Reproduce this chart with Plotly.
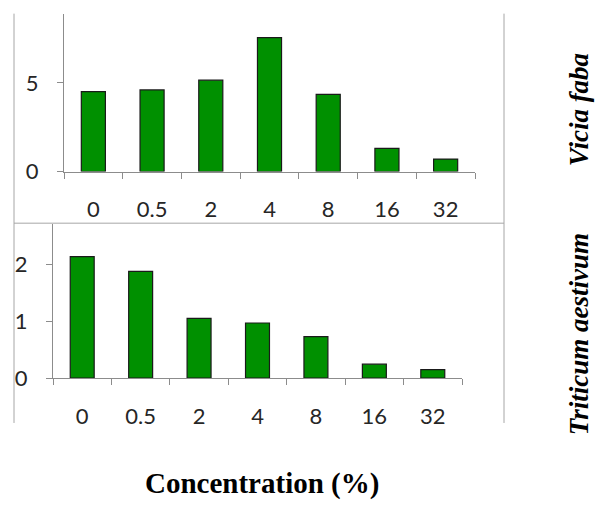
import plotly.graph_objects as go

# Concentration levels (%) and measured values for the two species
concentrations = ["0", "0.5", "2", "4", "8", "16", "32"]
vicia_faba = [4.5, 4.6, 5.15, 7.55, 4.35, 1.3, 0.7]
triticum_aestivum = [2.14, 1.88, 1.05, 0.97, 0.73, 0.245, 0.15]

W, H = 595, 511
BAR_GREEN = "#009000"
AXIS_GREY = "#8c8c8c"
FRAME_GREY = "#a6a6a6"
TICK_FONT = dict(family="Lato", size=22, color="#262626")
SERIF = "Liberation Serif"


def px_x(x):
    return x / W


def px_y(y):
    return (H - y) / H


fig = go.Figure()
fig.add_trace(go.Bar(x=concentrations, y=vicia_faba, xaxis="x", yaxis="y",
                     marker=dict(color=BAR_GREEN, line=dict(color="#1a1a1a", width=1.2)),
                     width=0.41, showlegend=False))
fig.add_trace(go.Bar(x=concentrations, y=triticum_aestivum, xaxis="x2", yaxis="y2",
                     marker=dict(color=BAR_GREEN, line=dict(color="#1a1a1a", width=1.2)),
                     width=0.41, showlegend=False))

xaxis_common = dict(type="category", showline=True, linecolor=AXIS_GREY, linewidth=1,
                    ticks="outside", tickson="boundaries", ticklen=6, tickcolor=AXIS_GREY,
                    showgrid=False, zeroline=False, tickfont=TICK_FONT,
                    ticklabelstandoff=18, fixedrange=True)
yaxis_common = dict(showline=True, linecolor=AXIS_GREY, linewidth=1, ticks="outside",
                    ticklen=6, tickcolor=AXIS_GREY, showgrid=False, zeroline=False,
                    tickfont=TICK_FONT, ticklabelstandoff=14, fixedrange=True)

fig.update_layout(
    width=W, height=H, margin=dict(l=0, r=0, t=0, b=0),
    paper_bgcolor="white", plot_bgcolor="white",
    xaxis=dict(domain=[px_x(64), px_x(475)], anchor="y", **xaxis_common),
    yaxis=dict(domain=[px_y(176), px_y(14)], anchor="x", range=[0, 8.9], dtick=5,
               **yaxis_common),
    xaxis2=dict(domain=[px_x(53), px_x(462)], anchor="y2", **xaxis_common),
    yaxis2=dict(domain=[px_y(388), px_y(230)], anchor="x2", range=[0, 2.71], dtick=1,
                **yaxis_common),
)

# Outer frame around the two panels
frame = dict(type="line", xref="paper", yref="paper", line=dict(color=FRAME_GREY, width=1))
fig.add_shape(x0=px_x(14), x1=px_x(14), y0=px_y(14), y1=px_y(434), **frame)
fig.add_shape(x0=px_x(504), x1=px_x(504), y0=px_y(14), y1=px_y(434), **frame)
fig.add_shape(x0=px_x(14), x1=px_x(504), y0=px_y(229), y1=px_y(229), **frame)

label_font = dict(family=SERIF, size=27, color="black")
fig.add_annotation(text="<b><i>Vicia faba</i></b>", x=px_x(579), y=px_y(113),
                   xref="paper", yref="paper", textangle=-90, showarrow=False,
                   font=label_font, xanchor="center", yanchor="middle")
fig.add_annotation(text="<b><i>Triticum aestivum</i></b>", x=px_x(579), y=px_y(343),
                   xref="paper", yref="paper", textangle=-90, showarrow=False,
                   font=label_font, xanchor="center", yanchor="middle")
fig.add_annotation(text="<b>Concentration (%)</b>", x=px_x(262), y=px_y(496),
                   xref="paper", yref="paper", showarrow=False,
                   font=dict(family=SERIF, size=29, color="black"),
                   xanchor="center", yanchor="middle")

fig.write_html("out.html")
